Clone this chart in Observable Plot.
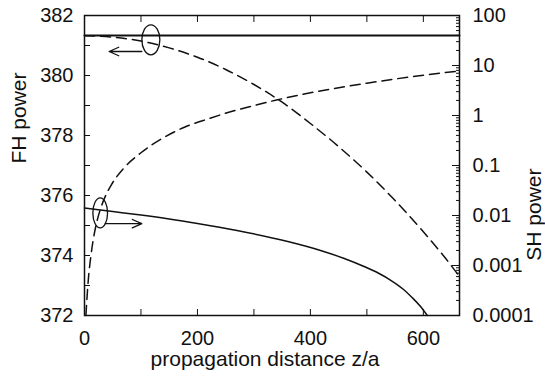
<!DOCTYPE html>
<html><head><meta charset="utf-8">
<script src="https://cdn.jsdelivr.net/npm/d3@7"></script>
<script src="https://cdn.jsdelivr.net/npm/@observablehq/plot@0.6"></script>
<style>body{margin:0;background:#fff} svg{display:block}</style>
</head><body><div id="chart"></div>
<script>
// ---- data ----
const fhTotalZ = [0, 664];
const fhTotal = [381.33, 381.33];

const fhZ = [0, 50, 100, 150, 200, 250, 300, 350, 400, 450, 500, 550, 600, 640, 664];
const fhPower = [381.33, 381.28, 381.15, 380.92, 380.61, 380.2, 379.7, 379.11, 378.4, 377.63, 376.78, 375.83, 374.79, 373.89, 373.3];

const shDashZ = [2.5, 4, 7, 11, 16, 22, 28, 36, 48, 69, 100, 140, 178, 221, 260, 300, 340, 412, 500, 589, 664];
const shDash = [0.0001, 0.00019, 0.00056, 0.00145, 0.00355, 0.0076, 0.0132, 0.023, 0.042, 0.087, 0.18, 0.36, 0.59, 0.87, 1.2, 1.58, 2.04, 3.02, 4.42, 6.17, 7.76];

const shSolidZ = [0, 50, 100, 150, 200, 270, 360, 418, 460, 495, 520, 543, 565, 580, 595, 607];
const shSolid = [0.0141, 0.0120, 0.0102, 0.00851, 0.00692, 0.00501, 0.00302, 0.0020, 0.00138, 0.000955, 0.000708, 0.000501, 0.000331, 0.000229, 0.000151, 0.0001];

// ---- ticks ----
const xTicks = [0, 200, 400, 600];
const xMinor = [0, 100, 200, 300, 400, 500, 600];
const fhTicks = [372, 374, 376, 378, 380, 382];
const fhMinor = [372, 373, 374, 375, 376, 377, 378, 379, 380, 381, 382];
const shTicks = [0.0001, 0.001, 0.01, 0.1, 1, 10, 100];
const shTickLabels = ["0.0001", "0.001", "0.01", "0.1", "1", "10", "100"];
const shMinorMult = [2, 3, 4, 5, 6, 7, 8, 9];

// ---- annotations ----
const ellipse1 = [{z: 117.5, fh: 381.19}];
const ellipse2 = [{z: 27.8, fh: 375.42}];
const arrows = [
  {z1: 101.5, fh1: 380.8, z2: 43.7, fh2: 380.8},
  {z1: 36.6, fh1: 375.06, z2: 101.5, fh2: 375.06}
];

// map SH (log, 1e-4..1e2) onto the FH axis (372..382)
const toY = v => 372 + (Math.log10(v) + 4) * 10 / 6;

const fhTotalData = fhTotalZ.map((z, i) => ({z, v: fhTotal[i]}));
const fhData = fhZ.map((z, i) => ({z, v: fhPower[i]}));
const shDashData = shDashZ.map((z, i) => ({z, v: shDash[i]}));
const shSolidData = shSolidZ.map((z, i) => ({z, v: shSolid[i]}));

const shTicksY = shTicks.map(toY);
const shLabelMap = new Map(shTicksY.map((y, i) => [y, shTickLabels[i]]));
const shMinorY = [];
for (const d of shTicks.slice(0, -1)) for (const m of shMinorMult) shMinorY.push(toY(d * m));

const ellipseSymbol = (aspect) => ({
  draw(ctx, size) {
    const r = Math.sqrt(size / Math.PI);
    const rx = r * aspect, ry = r, k = 0.5523;
    ctx.moveTo(rx, 0);
    ctx.bezierCurveTo(rx, ry * k, rx * k, ry, 0, ry);
    ctx.bezierCurveTo(-rx * k, ry, -rx, ry * k, -rx, 0);
    ctx.bezierCurveTo(-rx, -ry * k, -rx * k, -ry, 0, -ry);
    ctx.bezierCurveTo(rx * k, -ry, rx, -ry * k, rx, 0);
    ctx.closePath();
  }
});

const ink = "#111";
const chart = Plot.plot({
  width: 545, height: 379,
  marginLeft: 84, marginRight: 86, marginTop: 15, marginBottom: 64,
  x: {domain: [0, 664]},
  y: {domain: [372, 382]},
  style: {fontFamily: "'Liberation Sans', Arial, Helvetica, sans-serif", fontSize: "20px", color: ink, background: "white"},
  marks: [
    // inward ticks
    Plot.axisY(fhMinor, {anchor: "left", tickSize: 6, dx: 6, fill: "none", label: null}),
    Plot.axisY(shTicksY, {anchor: "right", tickSize: 8, dx: -8, fill: "none", label: null}),
    Plot.axisY(shMinorY, {anchor: "right", tickSize: 4, dx: -4, fill: "none", label: null}),
    Plot.axisX(xMinor, {anchor: "bottom", tickSize: 6, dy: -6, fill: "none", label: null}),
    Plot.axisX(xMinor, {anchor: "top", tickSize: 6, dy: 6, fill: "none", label: null}),
    // tick labels
    Plot.axisY(fhTicks, {anchor: "left", tickSize: 0, tickPadding: 11, label: null, fontSize: 20}),
    Plot.axisY(shTicksY, {anchor: "right", tickSize: 0, tickPadding: 13, label: null, fontSize: 20, tickFormat: d => shLabelMap.get(d)}),
    Plot.axisX(xTicks, {anchor: "bottom", tickSize: 0, tickPadding: 15, label: null, fontSize: 20}),
    // axis titles
    Plot.text(["propagation distance z/a"], {frameAnchor: "bottom", dy: 44, dx: -7, lineAnchor: "middle", fontSize: 21, fill: ink}),
    Plot.text(["FH power"], {frameAnchor: "left", dx: -65, dy: -2, rotate: -90, lineAnchor: "middle", fontSize: 21, fill: ink}),
    Plot.text(["SH power"], {frameAnchor: "right", dx: 75, dy: 3, rotate: -90, lineAnchor: "middle", fontSize: 21, fill: ink}),
    // curves
    Plot.line(fhTotalData, {x: "z", y: "v", stroke: ink, strokeWidth: 2}),
    Plot.line(fhData, {x: "z", y: "v", stroke: ink, strokeWidth: 1.5, strokeDasharray: "10,6", curve: "monotone-x"}),
    Plot.line(shDashData, {x: "z", y: d => toY(d.v), stroke: ink, strokeWidth: 1.5, strokeDasharray: "10,6", curve: "monotone-x"}),
    Plot.line(shSolidData, {x: "z", y: d => toY(d.v), stroke: ink, strokeWidth: 1.5, curve: "monotone-x"}),
    // annotations
    Plot.dot(ellipse1, {x: "z", y: "fh", r: 15, symbol: ellipseSymbol(0.6), fill: "none", stroke: ink, strokeWidth: 1.3}),
    Plot.dot(ellipse2, {x: "z", y: "fh", r: 15, symbol: ellipseSymbol(0.49), fill: "none", stroke: ink, strokeWidth: 1.3}),
    Plot.arrow(arrows, {x1: "z1", y1: "fh1", x2: "z2", y2: "fh2", stroke: ink, strokeWidth: 1.3, headLength: 12, headAngle: 48}),
    Plot.frame({stroke: ink, strokeWidth: 1.5})
  ]
});
document.getElementById("chart").append(chart);
</script>
</body></html>
